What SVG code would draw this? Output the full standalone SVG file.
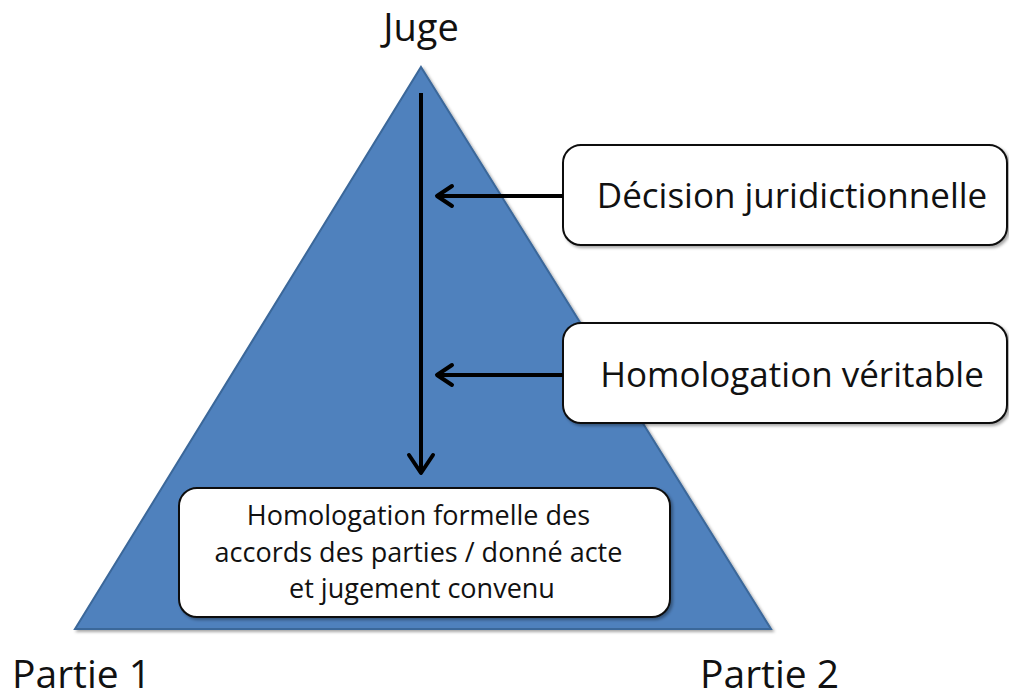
<svg xmlns="http://www.w3.org/2000/svg" width="1009" height="699" viewBox="0 0 1009 699">
<style>
.lbl{font-family:"Open Sans","Noto Sans",sans-serif;fill:#111;}
.box{fill:#fff;stroke:#111;stroke-width:2;}
.conn{stroke:#000;stroke-width:4;fill:none;}
.head{stroke:#000;stroke-width:4;fill:none;stroke-linecap:round;stroke-linejoin:round;}
</style>
<defs>
<filter id="sh" x="-10%" y="-10%" width="120%" height="120%">
<feDropShadow dx="2" dy="2" stdDeviation="1.5" flood-color="#000" flood-opacity="0.35"/>
</filter>
</defs>
<rect width="1009" height="699" fill="#fff"/>
<g id="triangle">
<polygon points="421,67 771,629 75,629" fill="#4F81BD" stroke="#3B679A" stroke-width="2" filter="url(#sh)"/>
</g>
<g id="juge"><text class="lbl" x="421" y="41" font-size="38" text-anchor="middle">Juge</text></g>
<g id="partie1"><text class="lbl" x="12" y="688" font-size="39">Partie 1</text></g>
<g id="partie2"><text class="lbl" x="700" y="688" font-size="39">Partie 2</text></g>
<g id="decision">
<rect class="box" x="563" y="145" width="444" height="100" rx="18" filter="url(#sh)"/>
<text class="lbl" x="792" y="208" font-size="35" text-anchor="middle">Décision juridictionnelle</text>
</g>
<g id="homologation">
<rect class="box" x="563" y="323" width="444" height="100" rx="18" filter="url(#sh)"/>
<text class="lbl" x="792" y="387" font-size="35" text-anchor="middle">Homologation véritable</text>
</g>
<g id="formelle">
<rect class="box" x="179" y="488" width="491" height="129" rx="18" filter="url(#sh)"/>
<text class="lbl" font-size="27" text-anchor="middle">
<tspan x="422" y="525">Homologation formelle des</tspan>
<tspan x="422" y="562">accords des parties / donné acte</tspan>
<tspan x="422" y="598">et jugement convenu</tspan>
</text>
</g>
<g id="connectors">
<line class="conn" x1="421" y1="93" x2="421" y2="472"/>
<polyline class="head" points="409,455 421,473 433,455"/>
<line class="conn" x1="563" y1="196" x2="437" y2="196"/>
<polyline class="head" points="452,186 437,196 452,206"/>
<line class="conn" x1="563" y1="375" x2="437" y2="375"/>
<polyline class="head" points="452,365 437,375 452,385"/>
</g>
</svg>
